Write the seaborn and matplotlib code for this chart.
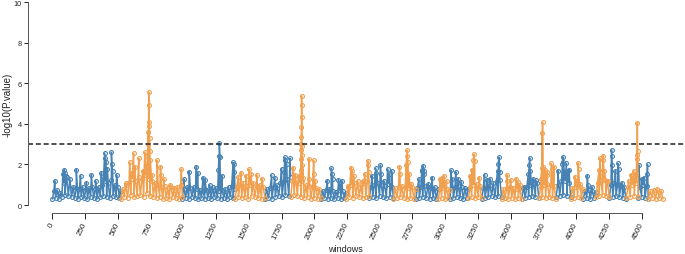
import numpy as np
import pandas as pd
import matplotlib
matplotlib.use("Agg")
import matplotlib.pyplot as plt
import seaborn as sns

# chromosome segments along the window axis (start window of each, last one closes)
seg_edges = [0, 525, 993, 1395, 1624, 1820, 2052, 2243, 2420, 2604, 2775, 2947,
             3037, 3177, 3279, 3431, 3584, 3716, 3846, 3958, 4054, 4151, 4253,
             4381, 4475, 4551, 4663]

# background -log10(P) values, evenly spread over each segment
base_vals = [
    [0.3, 0.7, 0.35, 0.75, 0.3, 0.6, 0.4, 1.1, 0.5, 1.4, 0.45, 1.3, 0.4, 0.9, 0.35, 0.85, 0.3, 0.8, 0.4, 0.9, 0.35, 0.8,
     0.3, 0.85, 0.4, 0.9, 0.35, 0.8, 0.3, 0.9, 0.4, 1.0, 0.45, 1.2, 0.4, 1.1, 0.35, 1.25, 0.45, 1.0, 0.4, 0.9, 0.35, 0.7],
    [0.3, 0.8, 0.4, 1.0, 0.35, 1.1, 0.5, 1.3, 0.4, 1.2, 0.45, 1.4, 0.5, 1.3, 0.4, 1.5, 0.6, 1.3, 0.45, 1.2,
     0.4, 1.1, 0.35, 1.0, 0.4, 0.9, 0.3, 0.95, 0.35, 0.85, 0.3, 0.9, 0.4, 0.85, 0.35, 0.9, 0.3, 1.0, 0.4],
    [0.3, 0.8, 0.35, 0.9, 0.3, 0.85, 0.4, 0.9, 0.35, 0.8, 0.3, 0.75, 0.35, 0.7, 0.3, 0.75, 0.35,
     0.8, 0.3, 0.9, 0.4, 0.85, 0.35, 0.7, 0.3, 0.75, 0.35, 0.8, 0.3, 0.9, 0.4, 0.95, 0.35, 0.8],
    [0.3, 0.9, 0.4, 1.0, 0.35, 1.1, 0.4, 0.95, 0.3, 1.0, 0.45, 1.1, 0.4, 0.95, 0.35, 1.0, 0.3, 0.9, 0.35],
    [0.3, 0.8, 0.35, 0.85, 0.3, 0.9, 0.4, 1.0, 0.45, 1.1, 0.4, 1.2, 0.5, 1.3, 0.45, 1.4],
    [0.4, 1.2, 0.5, 1.3, 0.45, 1.1, 0.4, 1.2, 0.35, 1.0, 0.4, 0.95, 0.3, 0.9, 0.35, 0.85, 0.3, 0.8, 0.35],
    [0.3, 0.7, 0.35, 0.75, 0.3, 0.8, 0.35, 0.7, 0.3, 0.65, 0.35, 0.75, 0.3, 0.7, 0.35, 0.6],
    [0.3, 0.9, 0.4, 1.0, 0.35, 1.1, 0.45, 1.2, 0.4, 1.0, 0.35, 1.1, 0.4, 1.2, 0.45],
    [0.35, 0.9, 0.4, 1.0, 0.35, 1.1, 0.45, 1.0, 0.4, 0.95, 0.35, 1.05, 0.4, 0.9, 0.35],
    [0.3, 0.85, 0.35, 0.9, 0.4, 0.95, 0.35, 0.9, 0.3, 0.85, 0.35, 0.9, 0.3, 0.8],
    [0.3, 0.85, 0.35, 0.9, 0.4, 0.95, 0.35, 0.9, 0.3, 0.85, 0.35, 0.9, 0.3, 0.8],
    [0.3, 0.8, 0.35, 0.85, 0.3, 0.8, 0.35, 0.75],
    [0.3, 0.85, 0.35, 0.9, 0.4, 0.95, 0.35, 0.9, 0.3, 0.85, 0.35, 0.8],
    [0.35, 0.9, 0.4, 1.0, 0.35, 1.05, 0.4, 0.95, 0.35],
    [0.3, 0.85, 0.35, 0.9, 0.4, 1.0, 0.45, 1.1, 0.4, 1.2, 0.45, 1.25, 0.4],
    [0.3, 0.8, 0.35, 0.85, 0.3, 0.9, 0.35, 0.85, 0.3, 0.8, 0.35, 0.85, 0.3],
    [0.3, 0.85, 0.35, 0.9, 0.4, 1.0, 0.45, 1.05, 0.4, 1.1, 0.35],
    [0.35, 0.9, 0.4, 1.0, 0.35, 1.05, 0.4, 1.0, 0.35, 0.95, 0.3],
    [0.4, 1.0, 0.45, 1.2, 0.5, 1.2, 0.45, 1.1, 0.4],
    [0.3, 0.85, 0.35, 0.9, 0.4, 0.9, 0.35, 0.8],
    [0.3, 0.7, 0.35, 0.75, 0.3, 0.7, 0.35, 0.65],
    [0.4, 1.1, 0.45, 1.2, 0.5, 1.3, 0.45, 1.2, 0.4],
    [0.35, 1.0, 0.4, 1.1, 0.45, 1.0, 0.4, 0.95, 0.35, 0.9, 0.3],
    [0.35, 0.9, 0.4, 1.0, 0.45, 1.1, 0.4],
    [0.35, 0.9, 0.4, 1.0, 0.35, 0.95, 0.3],
    [0.3, 0.7, 0.35, 0.75, 0.3, 0.8, 0.35, 0.7, 0.3],
]

# windows standing out above the background band
hit_windows = [
    [18, 80, 90, 97, 105, 183, 215, 260, 298, 330, 374, 390, 400, 405, 410, 420, 451, 455, 460, 490],
    [560, 590, 600, 620, 630, 660, 690, 705, 715, 725, 730, 733, 735, 736, 738, 740, 742, 745, 748,
     760, 800, 825, 830, 850, 900, 985],
    [1005, 1045, 1100, 1110, 1150, 1165, 1200, 1268, 1272, 1275, 1280, 1295, 1380, 1386, 1390],
    [1420, 1440, 1480, 1500, 1520, 1560, 1600],
    [1675, 1700, 1750, 1770, 1775, 1780, 1790, 1815],
    [1840, 1855, 1880, 1895, 1897, 1899, 1900, 1901, 1902, 1903, 1904, 1905, 1906, 1907, 1910, 1915,
     1960, 1962, 1995, 1998, 2005],
    [2100, 2130, 2135, 2140, 2185, 2195, 2210],
    [2260, 2280, 2290, 2300, 2370, 2385, 2410, 2413, 2416],
    [2440, 2470, 2475, 2505, 2510, 2530, 2560, 2575, 2590],
    [2650, 2655, 2700, 2708, 2710, 2715, 2725, 2740],
    [2800, 2820, 2825, 2830, 2835, 2840, 2870, 2900],
    [2960, 2975, 2990, 3010],
    [3045, 3055, 3080, 3100, 3120],
    [3190, 3205, 3215, 3220, 3225, 3260],
    [3300, 3320, 3340, 3400, 3405, 3410, 3415],
    [3470, 3475, 3500, 3540, 3555, 3570],
    [3600, 3635, 3640, 3645, 3650, 3670, 3690],
    [3730, 3738, 3741, 3743, 3745, 3760, 3775, 3780, 3810, 3815, 3830],
    [3860, 3895, 3898, 3903, 3925, 3935, 3945],
    [3990, 4000, 4015, 4018, 4030],
    [4085, 4090, 4120],
    [4175, 4180, 4183, 4205, 4208, 4215, 4225, 4235],
    [4270, 4272, 4275, 4300, 4318, 4325, 4350],
    [4400, 4420, 4440, 4455, 4462, 4465, 4467, 4469],
    [4478, 4500, 4520, 4540, 4545],
    [],
]
hit_vals = [
    [1.2, 1.55, 1.75, 1.6, 1.45, 1.75, 1.45, 1.1, 1.5, 1.2, 1.6, 1.3, 2.56, 2.3, 2.1, 1.8, 2.6, 2.0, 1.7, 1.5],
    [1.1, 2.1, 1.6, 2.55, 1.9, 2.3, 1.7, 2.6, 2.0, 2.4, 3.0, 3.6, 4.1, 5.55, 4.94, 3.9, 3.3, 2.65, 2.2,
     1.5, 2.2, 1.9, 1.5, 1.3, 1.0, 1.77],
    [1.28, 1.65, 1.9, 1.6, 1.35, 1.25, 1.0, 1.75, 2.4, 3.05, 2.35, 1.45, 2.1, 1.65, 2.0],
    [1.4, 1.6, 1.45, 1.77, 1.55, 1.5, 1.3],
    [1.47, 1.35, 1.8, 1.65, 2.35, 2.2, 2.0, 2.3],
    [1.85, 1.5, 1.45, 1.75, 2.25, 2.7, 3.0, 3.33, 3.83, 5.38, 4.95, 4.36, 2.9, 2.45, 1.95, 1.35,
     2.27, 1.3, 2.2, 1.55, 1.2],
    [1.2, 1.82, 1.55, 1.3, 1.25, 1.05, 1.2],
    [0.95, 1.85, 1.7, 1.45, 1.2, 1.55, 2.18, 1.95, 1.65],
    [1.45, 1.82, 1.6, 1.97, 1.55, 1.2, 1.78, 1.55, 1.7],
    [1.9, 1.55, 1.95, 2.4, 2.7, 2.1, 1.55, 1.05],
    [1.3, 1.7, 1.75, 1.94, 1.7, 1.55, 1.05, 1.35],
    [1.3, 1.35, 1.45, 1.2],
    [1.72, 1.3, 1.64, 1.3, 1.15],
    [1.45, 1.75, 2.2, 2.5, 2.15, 1.35],
    [1.5, 1.25, 1.3, 1.7, 2.0, 2.35, 1.65],
    [1.5, 1.2, 1.25, 1.3, 1.15, 1.0],
    [0.9, 1.55, 1.95, 2.32, 1.7, 1.3, 1.25],
    [1.3, 1.85, 3.53, 4.07, 1.9, 1.75, 1.65, 1.5, 2.05, 1.8, 1.9],
    [1.7, 2.0, 2.38, 2.1, 2.05, 1.7, 1.75],
    [1.4, 1.2, 2.07, 1.8, 1.05],
    [1.45, 1.0, 0.9],
    [1.75, 1.45, 2.3, 2.43, 2.2, 1.7, 1.2, 1.15],
    [2.72, 2.4, 1.95, 1.7, 2.05, 1.8, 1.1],
    [1.2, 1.5, 1.7, 1.55, 2.25, 2.45, 4.05, 2.68],
    [1.98, 1.3, 1.35, 1.55, 2.0],
    [],
]

threshold = 3
x_ticks = list(range(0, 4501, 250))
y_ticks = [0, 2, 4, 6, 8, 10]
colors = ["#4682B4", "#F0A04E"]

rows = []
for i, vals in enumerate(base_vals):
    wins = np.linspace(seg_edges[i], seg_edges[i + 1] - 1, len(vals))
    for w, v in zip(wins, vals):
        rows.append((w, v, i + 1))
    for w, v in zip(hit_windows[i], hit_vals[i]):
        rows.append((w, v, i + 1))
df = pd.DataFrame(rows, columns=["window", "logp", "chrom"])
df["parity"] = (df["chrom"] - 1) % 2

sns.set_theme(style="white")
plt.rcParams["font.family"] = ["Liberation Sans", "DejaVu Sans"]

fig = plt.figure(figsize=(6.85, 2.55), dpi=100)
ax = fig.add_axes([28 / 685, 41 / 255, 657 / 685, 214 / 255])

for p, c in enumerate(colors):
    sns.lineplot(data=df[df["parity"] == p], x="window", y="logp", units="chrom",
                 estimator=None, color=c, lw=1.1, marker="o", ms=2.8,
                 mfc="none", mec=c, mew=0.8, ax=ax, legend=False)

ax.axhline(threshold, color="#333333", lw=1.2, ls=(0, (3.0, 1.7)))

ax.set_xlim(-186, 4831)
ax.set_ylim(-0.39, 10.15)
ax.set_xticks(x_ticks)
ax.set_xticklabels([str(t) for t in x_ticks], rotation=65, ha="right", va="center",
                   rotation_mode="anchor")
ax.set_yticks(y_ticks)
ax.set_yticklabels([str(t) for t in y_ticks])
ax.tick_params(axis="x", length=4, width=0.7, pad=2.5, labelsize=5.8, colors="#222222",
               bottom=True)
ax.tick_params(axis="y", length=3, width=0.7, pad=1.5, labelsize=5.3, colors="#222222",
               left=True)

for s in ["top", "right"]:
    ax.spines[s].set_visible(False)
for s in ["left", "bottom"]:
    ax.spines[s].set_color("#555555")
    ax.spines[s].set_linewidth(0.7)
ax.spines["left"].set_bounds(0, 10)
ax.spines["bottom"].set_bounds(0, 4500)

ax.set_xlabel("windows", fontsize=6.5, color="#222222")
ax.xaxis.set_label_coords(317 / 657, -31 / 214)
ax.set_ylabel("-log10(P.value)", fontsize=7, color="#222222")
ax.yaxis.set_label_coords(-15 / 657, 0.51)

fig.savefig("out.png", dpi=100)
